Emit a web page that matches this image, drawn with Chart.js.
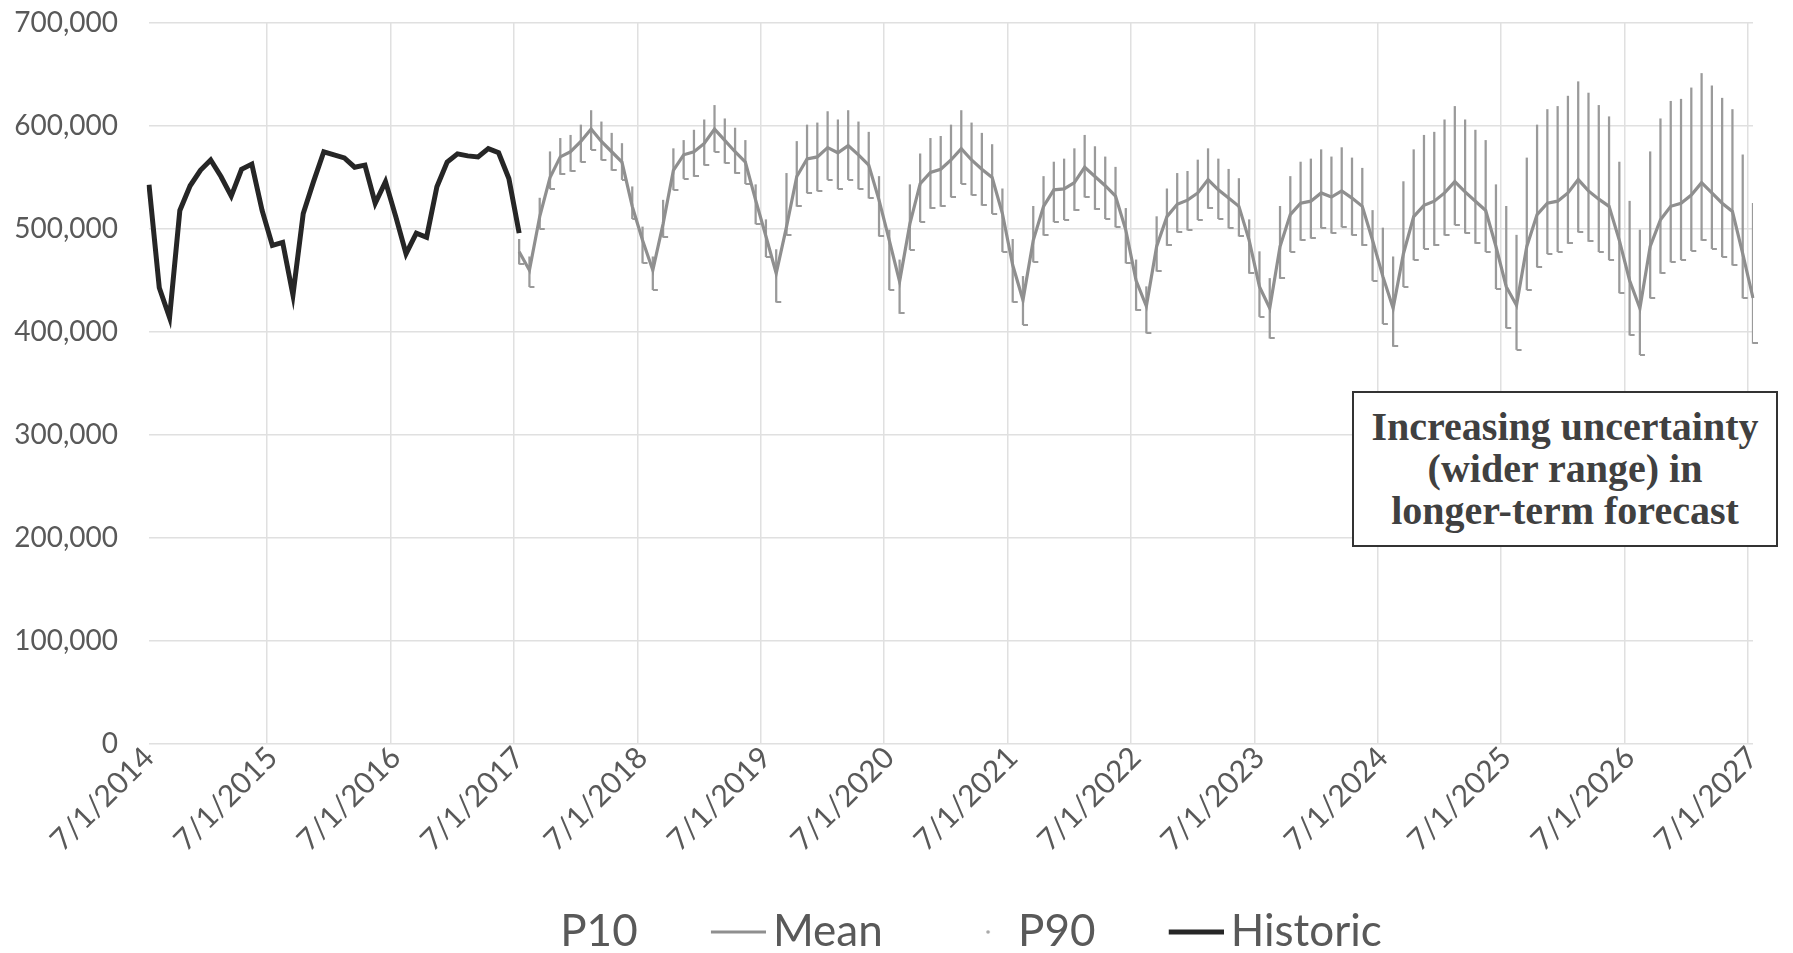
<!DOCTYPE html>
<html><head><meta charset="utf-8">
<script src="https://cdn.jsdelivr.net/npm/chart.js@4.4.1/dist/chart.umd.min.js"></script>
<style>
html,body{margin:0;padding:0;background:#fff;}
#wrap{position:relative;width:1793px;height:953px;}
#c{display:block;}
#note{position:absolute;left:1352px;top:391px;width:422px;height:152px;border:2px solid #333;background:#fff;
font-family:"Liberation Serif",serif;font-weight:bold;font-size:40px;line-height:42px;color:#404040;text-align:center;
display:flex;align-items:center;justify-content:center;white-space:nowrap;}
</style></head><body>
<div id="wrap"><canvas id="c" width="1793" height="953" style="width:1793px;height:953px"></canvas>
<div id="note">Increasing uncertainty<br>(wider range) in<br>longer-term forecast</div></div>
<script>
// Year tick labels (one per July)
const yearLabels = ["7/1/2014","7/1/2015","7/1/2016","7/1/2017","7/1/2018","7/1/2019","7/1/2020",
  "7/1/2021","7/1/2022","7/1/2023","7/1/2024","7/1/2025","7/1/2026","7/1/2027"];

// Historic monthly values, 7/2014 .. 7/2017
const historic = [543000,443000,414000,518000,542000,557000,567000,551000,532000,558000,563000,518000,
  484000,487000,436000,515000,546000,575000,572000,569000,560000,562000,525000,546000,
  512000,476000,496000,492000,541000,565000,573000,571000,570000,578000,574000,549000,
  496000];

// Forecast monthly values, 7/2017 .. 7/2027
const mean = [478000,460000,512000,550000,570000,575000,585000,597000,585000,575000,565000,522000,
  489000,460000,505000,557000,572000,575000,583000,597000,586000,575000,565000,528000,
  493000,457000,502000,551000,568000,570000,579000,574000,581000,572000,562000,528000,
  489000,449000,505000,544000,555000,558000,567000,578000,567000,558000,550000,515000,
  465000,431000,489000,522000,538000,539000,545000,560000,551000,542000,532000,499000,
  450000,425000,483000,512000,524000,528000,535000,548000,538000,530000,522000,489000,
  444000,423000,483000,514000,525000,527000,535000,531000,537000,530000,522000,489000,
  454000,423000,476000,512000,523000,527000,535000,546000,536000,527000,518000,483000,
  444000,426000,483000,514000,525000,527000,535000,548000,537000,529000,522000,489000,
  450000,423000,483000,509000,522000,525000,533000,545000,535000,525000,517000,476000,
  433000];
const p90 = [490000,473000,530000,575000,588000,591000,601000,615000,604000,593000,583000,541000,
  502000,473000,528000,578000,586000,596000,606000,620000,607000,598000,586000,543000,
  509000,480000,554000,585000,601000,603000,614000,606000,615000,604000,594000,551000,
  499000,470000,543000,573000,588000,590000,601000,615000,603000,593000,582000,539000,
  490000,454000,522000,551000,565000,568000,578000,591000,580000,570000,560000,520000,
  470000,444000,512000,539000,554000,556000,567000,578000,568000,558000,549000,509000,
  478000,452000,522000,551000,565000,568000,577000,570000,579000,569000,559000,518000,
  501000,473000,546000,577000,591000,594000,606000,619000,606000,596000,586000,543000,
  522000,494000,569000,601000,616000,619000,629000,643000,632000,620000,609000,565000,
  527000,499000,575000,607000,624000,626000,637000,651000,639000,627000,616000,572000,
  525000];
const p10 = [466000,444000,500000,539000,553000,556000,565000,577000,567000,557000,548000,510000,
  467000,441000,492000,538000,549000,551000,562000,575000,564000,554000,544000,505000,
  473000,429000,494000,522000,535000,537000,548000,539000,548000,539000,530000,493000,
  441000,418000,480000,507000,520000,522000,531000,544000,533000,523000,515000,478000,
  429000,407000,468000,494000,507000,509000,518000,531000,519000,510000,502000,467000,
  421000,399000,459000,484000,497000,499000,509000,520000,510000,501000,493000,457000,
  415000,394000,452000,478000,489000,491000,501000,496000,502000,494000,484000,450000,
  408000,386000,444000,470000,481000,484000,494000,504000,496000,486000,478000,442000,
  404000,383000,441000,463000,476000,478000,486000,497000,488000,478000,470000,438000,
  397000,378000,433000,457000,468000,470000,479000,489000,481000,473000,465000,433000,
  389000];

// Legend entries
const legendNames = ["P10", "Mean", "P90", "Historic"];

// Build monthly category labels 7/2014 .. 7/2027
const labels = [];
for (let y = 2014; y <= 2027; y++) {
  for (let m = 1; m <= 12; m++) {
    const mm = ((m + 5) % 12) + 1;
    const yy = m <= 6 ? y : y + 1;
    if (labels.length < 157) labels.push(mm + "/1/" + yy);
  }
}
const nHist = historic.length;
const fStart = labels.length - mean.length;

const histFull = labels.map((_, i) => i < nHist ? historic[i] : null);
const meanFull = labels.map((_, i) => i >= fStart ? mean[i - fStart] : null);
const p10Full = labels.map((_, i) => i >= fStart ? p10[i - fStart] : null);
const rangeFull = labels.map((_, i) => i >= fStart ? [p10[i - fStart], p90[i - fStart]] : null);

const GREY = '#8f8f8f';
const BARGREY = '#9a9a9a';
const HIST = '#262626';

function makeCanvas(w, h, draw) {
  const c = document.createElement('canvas');
  c.width = w; c.height = h;
  draw(c.getContext('2d'));
  return c;
}
// small foot at the bottom of each P10..P90 range line
const foot = makeCanvas(12, 2, (c) => { c.fillStyle = BARGREY; c.fillRect(6, 0, 5, 2); });
// legend symbols
const LEG_W = 40;
const legMean = makeCanvas(70, 6, (c) => { c.fillStyle = GREY; c.fillRect(15, 1.5, 55, 3); });
const legHist = makeCanvas(70, 6, (c) => { c.fillStyle = HIST; c.fillRect(15, 0.5, 55, 5); });
const legDot = makeCanvas(40, 6, (c) => { c.fillStyle = '#a8a8a8'; c.beginPath(); c.arc(32, 3, 1.8, 0, Math.PI * 2); c.fill(); });
const legNone = makeCanvas(2, 2, () => {});
const GAP = '\u2002 ';

new Chart(document.getElementById('c'), {
  type: 'line',
  data: {
    labels: labels,
    datasets: [
      {label: legendNames[0], data: p10Full, showLine: false, pointStyle: foot, pointRadius: 6, pointHoverRadius: 6, order: 2},
      {label: legendNames[1], data: meanFull, borderColor: GREY, borderWidth: 3.2, pointRadius: 0, tension: 0, order: 1},
      {type: 'bar', label: legendNames[2], data: rangeFull, backgroundColor: BARGREY, barThickness: 1.6, grouped: false, order: 3},
      {label: legendNames[3], data: histFull, borderColor: HIST, borderWidth: 5, pointRadius: 0, tension: 0, order: 0}
    ]
  },
  options: {
    responsive: false,
    animation: false,
    layout: {padding: {left: 0, right: 40, top: 23, bottom: 0}},
    plugins: {
      tooltip: {enabled: false},
      legend: {
        position: 'bottom',
        fullSize: false,
        maxHeight: 83,
        labels: {
          font: {family: 'Lato', size: 44},
          color: '#595959',
          usePointStyle: true,
          pointStyleWidth: LEG_W,
          boxHeight: 4,
          padding: 40,
          generateLabels: () => [
            {text: legendNames[0] + GAP, fillStyle: 'rgba(0,0,0,0)', strokeStyle: 'rgba(0,0,0,0)', lineWidth: 0, pointStyle: legNone, hidden: false, datasetIndex: 0, fontColor: '#595959'},
            {text: legendNames[1] + GAP, fillStyle: GREY, strokeStyle: GREY, lineWidth: 0, pointStyle: legMean, hidden: false, datasetIndex: 1, fontColor: '#595959'},
            {text: legendNames[2] + GAP, fillStyle: GREY, strokeStyle: GREY, lineWidth: 0, pointStyle: legDot, hidden: false, datasetIndex: 2, fontColor: '#595959'},
            {text: legendNames[3] + '\u2002', fillStyle: HIST, strokeStyle: HIST, lineWidth: 0, pointStyle: legHist, hidden: false, datasetIndex: 3, fontColor: '#595959'}
          ]
        }
      }
    },
    scales: {
      x: {
        offset: false,
        grid: {
          color: (ctx) => (ctx.index % 12 === 0 ? '#e0e0e0' : 'rgba(0,0,0,0)'),
          lineWidth: 1.5,
          drawTicks: false
        },
        border: {display: false},
        ticks: {
          autoSkip: false,
          minRotation: 45,
          maxRotation: 45,
          padding: -4,
          color: '#595959',
          font: {family: 'Lato', size: 30},
          callback: function(val, i) { return i % 12 === 0 ? yearLabels[i / 12] : ''; }
        },
        afterFit: (s) => { s.height = 126; }
      },
      y: {
        min: 0, max: 700000,
        grid: {color: '#e0e0e0', lineWidth: 1.5, drawTicks: true, tickLength: 28, tickColor: 'rgba(0,0,0,0)'},
        border: {display: false},
        ticks: {
          stepSize: 100000,
          padding: 3,
          color: '#595959',
          font: {family: 'Lato', size: 28},
          callback: (v) => v.toLocaleString('en-US')
        },
        afterFit: (s) => { s.width = 149; }
      }
    }
  }
});
</script>
</body></html>
